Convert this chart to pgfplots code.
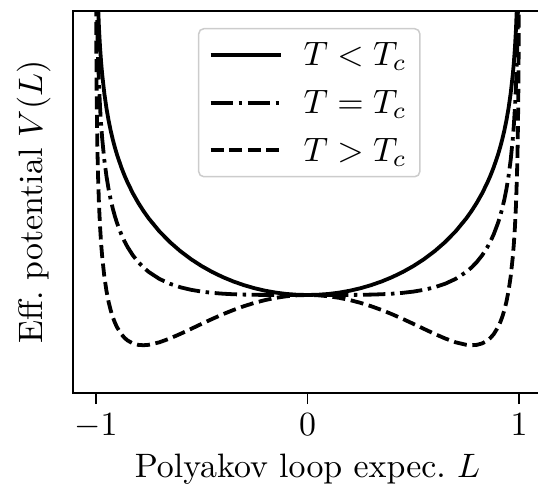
\documentclass[border=0pt]{standalone}
\usepackage{pgfplots}
\usepackage{pgfplotstable}
\pgfplotsset{compat=1.18}
\pgfplotstableread{
L A B C
-0.999 439.69 423.35 310.28
-0.998 395.27 368.07 252.74
-0.996 350.80 312.96 195.44
-0.993 314.83 268.72 149.77
-0.99 291.85 240.71 121.25
-0.985 265.65 209.16 89.49
-0.98 246.99 187.01 67.63
-0.975 232.46 170.04 51.17
-0.97 220.55 156.32 38.13
-0.96 201.65 135.04 18.48
-0.95 186.90 118.92 4.21
-0.94 174.75 106.05 -6.66
-0.93 164.44 95.44 -15.21
-0.92 155.45 86.46 -22.07
-0.91 147.47 78.73 -27.65
-0.9 140.31 72.00 -32.22
-0.88 127.81 60.76 -39.10
-0.865 119.70 53.84 -42.77
-0.85 112.39 47.89 -45.49
-0.825 101.64 39.64 -48.42
-0.8 92.27 32.99 -49.86
-0.775 83.97 27.54 -50.23
-0.75 76.54 23.03 -49.81
-0.7 63.67 16.11 -47.32
-0.65 52.89 11.20 -43.45
-0.6 43.68 7.68 -38.83
-0.55 35.76 5.17 -33.87
-0.5 28.91 3.39 -28.83
-0.45 22.99 2.15 -23.92
-0.4 17.88 1.30 -19.27
-0.35 13.51 0.74 -14.99
-0.3 9.82 0.39 -11.16
-0.25 6.76 0.19 -7.83
-0.2 4.29 0.08 -5.05
-0.15 2.40 0.02 -2.86
-0.1 1.06 0.005 -1.28
-0.05 0.27 0.0 -0.32
0 0 0 0
0.05 0.27 0.0 -0.32
0.1 1.06 0.005 -1.28
0.15 2.40 0.02 -2.86
0.2 4.29 0.08 -5.05
0.25 6.76 0.19 -7.83
0.3 9.82 0.39 -11.16
0.35 13.51 0.74 -14.99
0.4 17.88 1.30 -19.27
0.45 22.99 2.15 -23.92
0.5 28.91 3.39 -28.83
0.55 35.76 5.17 -33.87
0.6 43.68 7.68 -38.83
0.65 52.89 11.20 -43.45
0.7 63.67 16.11 -47.32
0.75 76.54 23.03 -49.81
0.775 83.97 27.54 -50.23
0.8 92.27 32.99 -49.86
0.825 101.64 39.64 -48.42
0.85 112.39 47.89 -45.49
0.865 119.70 53.84 -42.77
0.88 127.81 60.76 -39.10
0.9 140.31 72.00 -32.22
0.91 147.47 78.73 -27.65
0.92 155.45 86.46 -22.07
0.93 164.44 95.44 -15.21
0.94 174.75 106.05 -6.66
0.95 186.90 118.92 4.21
0.96 201.65 135.04 18.48
0.97 220.55 156.32 38.13
0.975 232.46 170.04 51.17
0.98 246.99 187.01 67.63
0.985 265.65 209.16 89.49
0.99 291.85 240.71 121.25
0.993 314.83 268.72 149.77
0.996 350.80 312.96 195.44
0.998 395.27 368.07 252.74
0.999 439.69 423.35 310.28
}\potdata
\begin{document}
\begin{tikzpicture}
\begin{axis}[
  at={(73bp,94bp)}, anchor=south west,
  scale only axis, width=469bp, height=382bp,
  xmin=-1.108, xmax=1.108, ymin=-98, ymax=284,
  xtick={-1,0,1}, ytick=\empty, xtick pos=bottom,
  tick align=outside, major tick length=11bp,
  xtick style={line width=1.8bp, black},
  axis line style={line width=1.8bp},
  xticklabel={\scalebox{3.4}{$\pgfmathprintnumber{\tick}$}},
  xticklabel style={yshift=-6bp},
  xlabel={\scalebox{3.4}{Polyakov loop expec.\ $L$}},
  xlabel style={at={(axis description cs:0.5,-0.2)}, anchor=center},
  ylabel={\scalebox{3.4}{Eff.\ potential $V(L)$}},
  ylabel style={at={(axis description cs:-0.084,0.5)}, anchor=center},
  legend style={at={(axis description cs:0.2665,0.9555)}, anchor=north west,
    draw=black!20, rounded corners=5bp, line width=1.5bp, fill=white,
    inner xsep=10bp, inner ysep=11bp, row sep=17bp,
    nodes={inner sep=3bp}},
  legend style={/tikz/every odd column/.append style={column sep=18bp}},
  legend cell align=left,
  legend image code/.code={\draw[#1] (0bp,0bp) -- (70bp,0bp);},
]
\addplot[black, line width=3.8bp] table[x=L, y=A] {\potdata};
\addlegendentry{\scalebox{3.4}{$T<T_c$}}
\addplot[black, line width=3.8bp, dash pattern=on 22.4bp off 5.6bp on 3.5bp off 5.6bp] table[x=L, y=B] {\potdata};
\addlegendentry{\scalebox{3.4}{$T=T_c$}}
\addplot[black, line width=3.8bp, dash pattern=on 13bp off 5.6bp] table[x=L, y=C] {\potdata};
\addlegendentry{\scalebox{3.4}{$T>T_c$}}
\end{axis}
\pgfresetboundingbox
\useasboundingbox (0,0) rectangle (538bp,487bp);
\end{tikzpicture}
\end{document}
